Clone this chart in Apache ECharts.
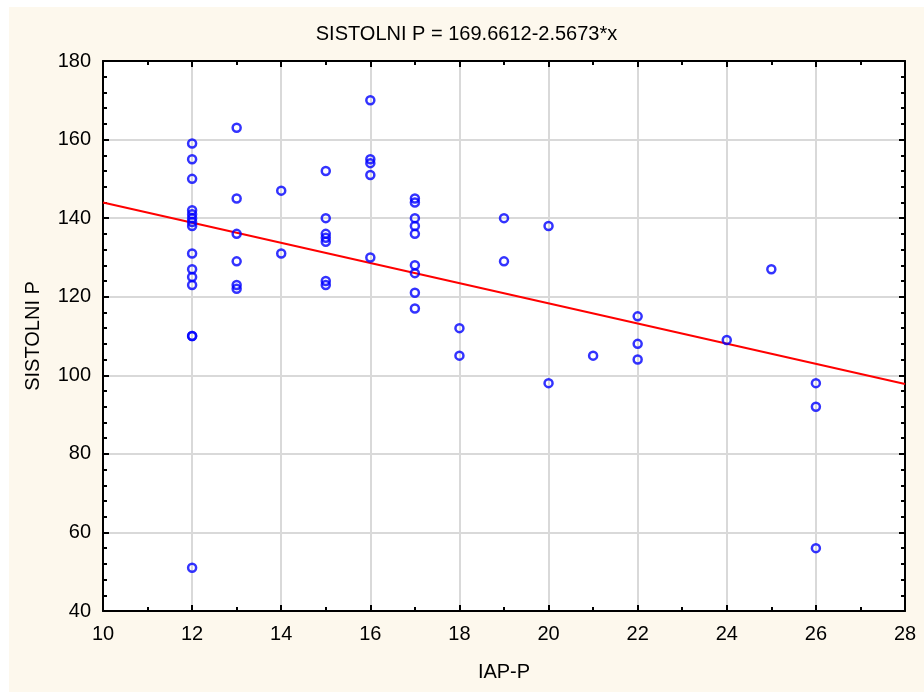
<!DOCTYPE html>
<html>
<head>
<meta charset="utf-8">
<script src="https://cdn.jsdelivr.net/npm/echarts@6/dist/echarts.min.js"></script>
<style>
  html, body { margin: 0; padding: 0; background: #ffffff; }
  #chart { position: absolute; left: 9px; top: 7px; width: 915px; height: 685px; }
</style>
</head>
<body>
<div id="chart"></div>
<script>
// IAP-P (x) and SISTOLNI P (y), one entry per patient
const iapP = [
  12, 12, 12, 12, 12, 12, 12, 12, 12, 12, 12, 12, 12, 12, 12,
  13, 13, 13, 13, 13, 13,
  14, 14,
  15, 15, 15, 15, 15, 15, 15,
  16, 16, 16, 16, 16,
  17, 17, 17, 17, 17, 17, 17, 17, 17,
  18, 18,
  19, 19,
  20, 20,
  21,
  22, 22, 22,
  24,
  25,
  26, 26, 26
];
const sistolniP = [
  159, 155, 150, 142, 141, 140, 139, 138, 131, 127, 125, 123, 110, 110, 51,
  163, 145, 136, 129, 123, 122,
  147, 131,
  152, 140, 136, 135, 134, 124, 123,
  170, 155, 154, 151, 130,
  145, 144, 140, 138, 136, 128, 126, 121, 117,
  112, 105,
  140, 129,
  138, 98,
  105,
  115, 108, 104,
  109,
  127,
  98, 92, 56
];

// Fitted regression: SISTOLNI P = intercept + slope * x
const intercept = 169.6612;
const slope = -2.5673;
const xRange = [10, 28];
const yRange = [40, 180];

const points = iapP.map((x, i) => [x, sistolniP[i]]);
const fitLine = xRange.map(x => [x, intercept + slope * x]);

const font = '"Liberation Sans", Arial, sans-serif';
const textSize = 20;

function frameAxis(extra) {
  return Object.assign({
    type: 'value',
    axisLine: { show: true, lineStyle: { color: '#000', width: 2 } },
    axisTick: { show: true, inside: true, length: 6, lineStyle: { color: '#000', width: 2 } },
    axisLabel: { show: false },
    splitLine: { show: false }
  }, extra);
}

function minor(n) {
  return { show: true, splitNumber: n, length: 4, lineStyle: { color: '#000', width: 2 } };
}

const chart = echarts.init(document.getElementById('chart'));
chart.setOption({
  backgroundColor: '#fdf8ed',
  animation: false,
  title: {
    text: 'SISTOLNI P = 169.6612-2.5673*x',
    left: 'center',
    top: 17,
    padding: 0,
    textStyle: { fontFamily: font, fontSize: textSize, fontWeight: 'normal', color: '#000' }
  },
  grid: {
    left: 94, right: 19, top: 54, bottom: 81,
    show: true, backgroundColor: '#ffffff', borderWidth: 0
  },
  xAxis: [
    frameAxis({
      position: 'bottom',
      min: xRange[0], max: xRange[1], interval: 2,
      minorTick: minor(2),
      axisLabel: { show: true, margin: 13, fontFamily: font, fontSize: textSize, color: '#000' },
      splitLine: { show: true, lineStyle: { color: '#d9d9d9', width: 2 } },
      name: 'IAP-P',
      nameLocation: 'middle',
      nameGap: 51,
      nameTextStyle: { fontFamily: font, fontSize: textSize, color: '#000' }
    }),
    frameAxis({
      position: 'top',
      min: xRange[0], max: xRange[1], interval: 2,
      minorTick: minor(2)
    })
  ],
  yAxis: [
    frameAxis({
      position: 'left',
      min: yRange[0], max: yRange[1], interval: 20,
      minorTick: minor(5),
      axisLabel: { show: true, margin: 12, fontFamily: font, fontSize: textSize, color: '#000' },
      splitLine: { show: true, lineStyle: { color: '#d9d9d9', width: 2 } },
      name: 'SISTOLNI P',
      nameLocation: 'middle',
      nameGap: 60,
      nameTextStyle: { fontFamily: font, fontSize: textSize, color: '#000' }
    }),
    frameAxis({
      position: 'right',
      min: yRange[0], max: yRange[1], interval: 20,
      minorTick: minor(5)
    })
  ],
  series: [
    {
      type: 'line',
      data: fitLine,
      xAxisIndex: 0, yAxisIndex: 0,
      showSymbol: false,
      lineStyle: { color: '#ff0000', width: 2 },
      z: 2
    },
    {
      type: 'scatter',
      data: points,
      xAxisIndex: 0, yAxisIndex: 0,
      symbol: 'circle',
      symbolSize: 8,
      itemStyle: { color: 'rgba(255,255,255,0)', borderColor: '#0000ff', borderWidth: 2.5 },
      z: 3
    }
  ]
});
</script>
</body>
</html>
